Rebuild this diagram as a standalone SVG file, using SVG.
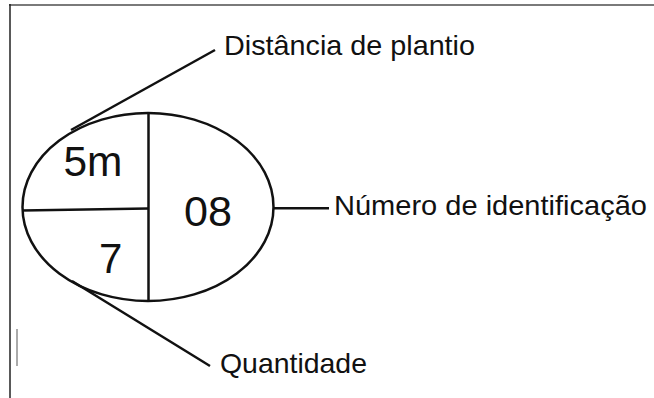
<svg xmlns="http://www.w3.org/2000/svg" width="654" height="398" viewBox="0 0 654 398">
<style>
.ln{stroke:#111;stroke-width:2.5;fill:none;stroke-linecap:butt}
.lbl{font-family:"Liberation Sans",Arial,sans-serif;font-size:28px;fill:#111}
.num{font-family:"Liberation Sans",Arial,sans-serif;font-size:42px;fill:#111}
</style>
<rect width="654" height="398" fill="#fff"/>
<g id="frame">
<line x1="9" y1="5" x2="654" y2="5" stroke="#7a7a7a" stroke-width="2"/>
<line x1="10" y1="4" x2="10" y2="398" stroke="#222" stroke-width="1.5"/>
<line x1="17" y1="329" x2="17" y2="366" stroke="#aaa" stroke-width="2"/>
</g>
<g id="connectors">
<line class="ln" x1="71" y1="130" x2="215" y2="50"/>
<line class="ln" x1="273" y1="208.3" x2="329" y2="208.3"/>
<line class="ln" x1="72" y1="281" x2="210" y2="366"/>
</g>
<g id="symbol">
<ellipse class="ln" cx="148" cy="207" rx="125.5" ry="94"/>
<line class="ln" x1="148.5" y1="113" x2="148.5" y2="302"/>
<line class="ln" x1="22" y1="210.5" x2="148" y2="208.5"/>
<text class="num" x="63.5" y="176" textLength="59" lengthAdjust="spacingAndGlyphs">5m</text>
<text class="num" x="184" y="226" textLength="48" lengthAdjust="spacingAndGlyphs">08</text>
<text class="num" x="99" y="273">7</text>
</g>
<g id="label-distancia">
<text class="lbl" x="224" y="54.5" textLength="251" lengthAdjust="spacingAndGlyphs">Distância de plantio</text>
</g>
<g id="label-numero">
<text class="lbl" x="334" y="215" textLength="313" lengthAdjust="spacingAndGlyphs">Número de identificação</text>
</g>
<g id="label-quantidade">
<text class="lbl" x="220" y="373" textLength="147" lengthAdjust="spacingAndGlyphs">Quantidade</text>
</g>
</svg>
